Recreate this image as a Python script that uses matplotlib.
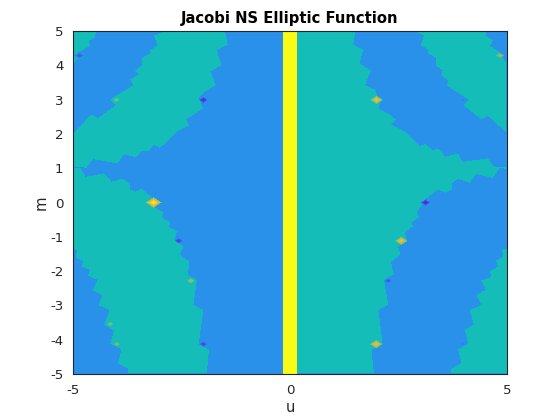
import numpy as np
import matplotlib
matplotlib.use("Agg")
import matplotlib.pyplot as plt
from matplotlib.colors import LinearSegmentedColormap
from matplotlib.path import Path

title = "Jacobi NS Elliptic Function"
x_label = "u"
y_label = "m"
x_ticks = [-5, 0, 5]
y_ticks = [-5, -4, -3, -2, -1, 0, 1, 2, 3, 4, 5]

# Level of each flat region of the heat map
level_low = 0.27
level_mid = 0.5
level_high = 1.0

# Pole column around u = 0
bar_u = [-0.16, 0.16]

# Outlines (u, m) of the regions at level_mid
upper_left = [(-3.14,4.88),(-2.92,5),(-1.50,5),(-1.44,4.62),(-1.69,4.45),(-1.58,4.01),(-1.84,3.84),
 (-1.71,3.43),(-1.94,3.26),(-2.11,3.07),(-2.01,2.75),(-2.40,2.43),(-2.33,2.26),(-2.61,2.07),(-3.00,1.60),
 (-3.15,1.68),(-3.26,1.51),(-3.42,1.51),(-3.55,1.32),(-3.84,1.41),(-3.98,1.14),(-4.55,1.27),(-4.70,1.02),
 (-5,1.04),(-5,2.04),(-4.59,2.57),(-4.43,2.47),(-4.03,2.84),(-4.15,3.01),(-4.01,3.13),(-3.61,3.43),
 (-3.69,3.60),(-3.49,3.74),(-3.57,3.86),(-3.42,4.01),(-3.42,4.23),(-3.24,4.35),(-3.24,4.45),(-3.06,4.59)]
corner_top_left = [(-5,5),(-4.48,5),(-4.51,4.82),(-4.65,4.74),(-4.61,4.59),(-4.84,4.42),(-4.80,4.30),
 (-4.92,4.17),(-5,4.06)]
lower_left = [(-5,1.02),(-4.84,1.0),(-4.72,0.75),(-4.30,0.85),(-4.12,0.61),(-3.86,0.70),(-3.71,0.56),
 (-3.70,0.38),(-3.57,0.32),(-3.42,0.41),(-3.15,0.10),(-3.13,-0.14),(-2.92,-0.29),(-2.96,-0.43),(-2.76,-0.59),
 (-2.80,-0.70),(-2.61,-0.85),(-2.67,-1.09),(-2.46,-1.29),(-2.55,-1.53),(-2.32,-1.73),(-2.36,-2.11),
 (-2.15,-2.26),(-2.23,-2.99),(-2.00,-3.15),(-2.11,-4.14),(-1.87,-4.30),(-1.92,-5),(-3.73,-5),(-3.74,-4.86),
 (-3.98,-4.71),(-3.89,-4.30),(-4.15,-4.13),(-4.07,-3.75),(-4.29,-3.57),(-4.17,-3.15),(-4.42,-3.00),
 (-4.33,-2.72),(-4.55,-2.57),(-4.45,-2.26),(-4.67,-2.14),(-4.62,-1.97),(-4.82,-1.87),(-4.78,-1.71),
 (-4.95,-1.60),(-4.92,-1.40),(-5,-1.36)]
centre_right = [(0.16,5),(1.51,5),(1.46,4.62),(1.69,4.47),(1.61,4.06),(1.87,3.86),(1.73,3.43),(1.96,3.30),
 (2.00,3.16),(2.10,2.99),(2.04,2.75),(2.30,2.58),(2.44,2.43),(2.34,2.28),(2.65,2.07),(3.00,1.65),(3.13,1.71),
 (3.30,1.53),(3.42,1.58),(3.59,1.34),(3.88,1.43),(3.99,1.19),(4.57,1.29),(4.71,1.04),(5,1.04),(5,0.99),
 (4.84,1.0),(4.69,0.72),(4.30,0.83),(4.15,0.58),(3.88,0.69),(3.74,0.56),(3.73,0.38),(3.59,0.29),(3.42,0.38),
 (3.13,0.10),(2.93,-0.29),(2.98,-0.43),(2.80,-0.59),(2.84,-0.70),(2.65,-0.87),(2.70,-1.09),(2.50,-1.29),
 (2.55,-1.53),(2.33,-1.73),(2.40,-2.11),(2.17,-2.26),(2.27,-2.99),(2.04,-3.15),(2.14,-4.14),(1.88,-4.30),
 (1.94,-5),(0.16,-5)]
upper_right = [(2.92,5),(4.53,5),(4.51,4.88),(4.69,4.74),(4.62,4.59),(4.84,4.40),(5,4.06),(5,2.04),(4.57,2.53),
 (4.42,2.43),(4.01,2.84),(4.12,3.01),(3.61,3.43),(3.66,3.57),(3.49,3.72),(3.53,3.86),(3.36,4.01),(3.38,4.23),
 (3.19,4.35),(3.20,4.47),(3.02,4.59),(3.09,4.88)]
lower_right = [(5,-1.36),(4.89,-1.38),(4.93,-1.58),(4.76,-1.70),(4.80,-1.87),(4.61,-2.02),(4.65,-2.18),
 (4.42,-2.28),(4.52,-2.55),(4.30,-2.70),(4.42,-2.99),(4.15,-3.15),(4.25,-3.57),(4.03,-3.72),(4.12,-4.13),
 (3.88,-4.30),(3.96,-4.69),(3.73,-4.86),(3.71,-5),(5,-5)]
regions = [upper_left, corner_top_left, lower_left, centre_right, upper_right, lower_right]

# Poles: position and peak level
pole_u = [-4.86,-4.01,-2.00,-3.15,-2.57,-2.29,-4.15,-4.00,-2.00,2.00,4.85,4.00,3.13,2.57,2.27,1.99,4.00]
pole_m = [4.30,3.00,3.00,0.00,-1.12,-2.29,-3.55,-4.14,-4.14,3.00,4.30,3.00,0.00,-1.12,-2.29,-4.14,-4.14]
pole_peak = [0.12,0.68,0.03,1.0,0.06,0.72,0.68,0.68,0.08,0.88,0.72,0.22,0.02,0.88,0.12,0.88,0.22]

nx, ny = 434, 343
u = np.linspace(-5, 5, nx)
m = np.linspace(-5, 5, ny)
U, M = np.meshgrid(u, m)
pts = np.column_stack([U.ravel(), M.ravel()])

Z = np.full(U.shape, level_low)
for r in regions:
    Z[Path(r + [r[0]]).contains_points(pts).reshape(U.shape)] = level_mid
Z[(U >= bar_u[0]) & (U <= bar_u[1])] = level_high

for pu, pm, pk in zip(pole_u, pole_m, pole_peak):
    base = Z[np.abs(m - pm).argmin(), np.abs(u - pu).argmin()]
    reach = 0.32 * abs(pk - base) + 0.03
    d = np.abs(U - pu) / 1.0 + np.abs(M - pm) / 0.85
    f = np.clip(1 - d / reach, 0, 1)
    mask = f > 0
    Z[mask] = base + (pk - base) * f[mask] ** 0.45

cmap = LinearSegmentedColormap.from_list("parula_like", [
    (0.0, "#3e26a8"), (0.13, "#4650f0"), (0.27, "#2a91ea"), (0.5, "#13bdb8"),
    (0.7, "#8fbf68"), (0.85, "#f0b93a"), (1.0, "#f9fb15")])

fig = plt.figure(figsize=(5.6, 4.2), dpi=100)
ax = fig.add_axes([73/560, 46/420, 434/560, 343/420])
ax.imshow(Z, origin="lower", extent=[-5, 5, -5, 5], aspect="auto",
          cmap=cmap, vmin=0, vmax=1, interpolation="nearest")
ax.set_xticks(x_ticks)
ax.set_xticklabels([str(t) for t in x_ticks])
ax.set_yticks(y_ticks)
ax.set_yticklabels([str(t) for t in y_ticks])
ax.tick_params(length=0, labelsize=9.6, labelcolor="#262626", pad=7)
for s in ax.spines.values():
    s.set_linewidth(0.8)
    s.set_color("#262626")
ax.set_title(title, fontsize=10.6, fontweight="bold", color="black", pad=5.5)
ax.set_xlabel(x_label, fontsize=10.6, color="#262626", labelpad=2)
ax.set_ylabel(y_label, fontsize=10.6, color="#262626", labelpad=1)
fig.savefig("out.png", dpi=100)
